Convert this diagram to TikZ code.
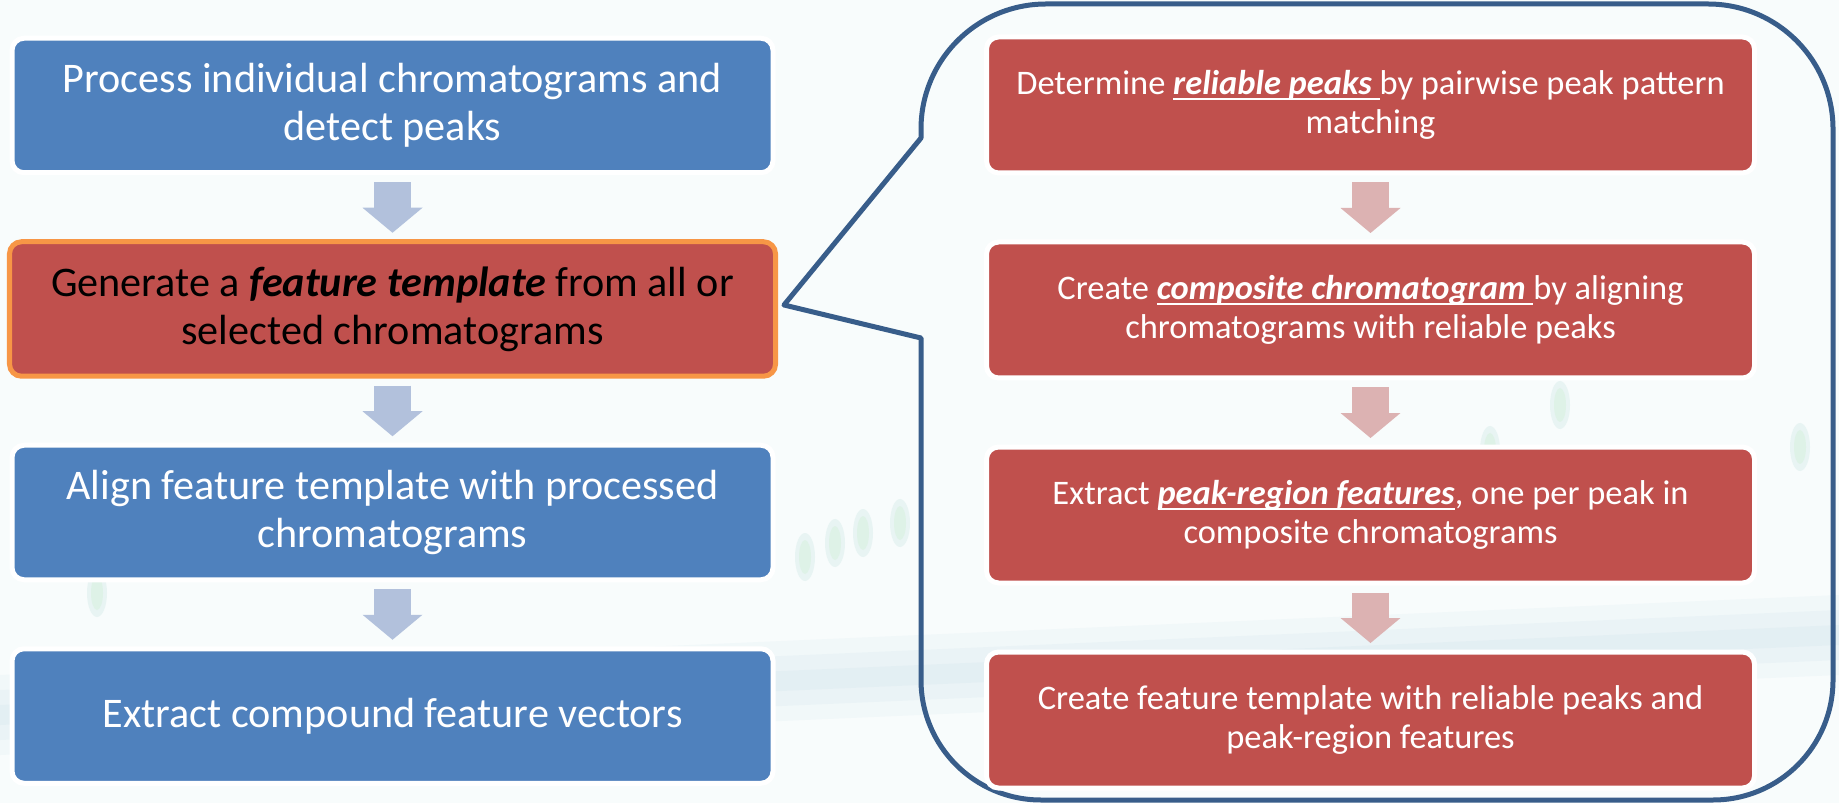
\documentclass[tikz,border=0pt]{standalone}
\usepackage{fontspec}
\setmainfont{Carlito}
\usepackage{xcolor}
\usetikzlibrary{arrows.meta,positioning}

\definecolor{bgcol}{RGB}{248,252,252}
\definecolor{stepblue}{RGB}{79,129,189}
\definecolor{stepred}{RGB}{192,80,77}
\definecolor{hilite}{RGB}{247,150,70}
\definecolor{calloutline}{RGB}{56,93,138}
\definecolor{arrowblue}{RGB}{178,193,220}
\definecolor{arrowred}{RGB}{220,178,178}
\definecolor{haze}{RGB}{214,232,238}
\definecolor{peakgreen}{RGB}{205,240,210}
\definecolor{peakedge}{RGB}{170,215,210}

% bold italic term with a tight underline
\newcommand{\keyterm}[1]{\setbox0\hbox{\bfseries\itshape #1}\rlap{\rule[-0.17em]{\wd0}{0.07em}}\box0}

\begin{document}
\begin{tikzpicture}[
    node distance=0.69cm,
    leftbox/.style={rectangle, rounded corners=0.12cm, fill=stepblue, draw=white, line width=0.05cm, outer sep=0pt, minimum width=7.61cm, minimum height=1.345cm, align=center, text=white, font=\fontsize{12}{13.7}\selectfont},
    rightbox/.style={rectangle, rounded corners=0.12cm, fill=stepred, draw=white, line width=0.05cm, outer sep=0pt, minimum width=7.68cm, minimum height=1.36cm, align=center, text=white, font=\fontsize{9.8}{11.2}\selectfont},
    blockarrow/.style={line width=0.37cm, -{Triangle[length=0.25cm, width=0.6cm, line width=0pt]}, shorten <=0.095cm, shorten >=0.09cm},
    peak/.style={fill=peakedge, opacity=0.2}
]

% Page and faint background
\fill[bgcol] (0,0) rectangle (18.39,-8.03);
\useasboundingbox (0,0) rectangle (18.39,-8.03);
\fill[haze, opacity=0.2] (0,-6.75) -- (18.39,-5.95) -- (18.39,-6.75) -- (0,-7.55) -- cycle;
\fill[haze, opacity=0.25] (0,-6.9) -- (18.39,-6.1) -- (18.39,-6.6) -- (0,-7.4) -- cycle;
\fill[haze, opacity=0.3] (0,-7.05) -- (18.39,-6.25) -- (18.39,-6.45) -- (0,-7.25) -- cycle;
\foreach \x/\y in {8.05/5.57, 8.35/5.43, 8.63/5.33, 9.0/5.23, 14.9/4.5, 15.6/4.05, 18.0/4.47, 0.97/5.93} {
    \fill[peak] (\x,-\y) ellipse[x radius=0.1cm, y radius=0.24cm];
    \fill[peakgreen, opacity=0.35] (\x,-\y) ellipse[x radius=0.06cm, y radius=0.17cm];
}

% Callout around the detail steps
\draw[calloutline, line width=0.05cm, line join=round]
    (7.84,-3.05) -- (9.21,-1.38) -- (9.21,-1.29) arc[start angle=180, end angle=90, radius=1.25]
    -- (17.08,-0.04) arc[start angle=90, end angle=0, radius=1.25]
    -- (18.33,-6.80) arc[start angle=0, end angle=-90, radius=1.2]
    -- (10.41,-8.00) arc[start angle=-90, end angle=-180, radius=1.2]
    -- (9.21,-3.38) -- cycle;

% Main workflow
\node[leftbox] (proc) at (3.925,-1.055) {Process individual chromatograms and\\detect peaks};
\node[leftbox, fill=stepred, draw=hilite, text=black, minimum width=7.66cm, below=of proc] (gen) {Generate a \textbf{\textit{feature template}} from all or\\selected chromatograms};
\node[leftbox, below=of gen] (align) {Align feature template with processed\\chromatograms};
\node[leftbox, below=of align] (extract) {Extract compound feature vectors};

% Template generation steps
\node[rightbox] (reliable) at (13.705,-1.05) {Determine \keyterm{reliable peaks\ }by pairwise peak pattern\\matching};
\node[rightbox, below=of reliable] (composite) {Create \keyterm{composite chromatogram\ }by aligning\\chromatograms with reliable peaks};
\node[rightbox, below=of composite] (regions) {Extract \keyterm{peak-region features}, one per peak in\\composite chromatograms};
\node[rightbox, below=of regions] (template) {Create feature template with reliable peaks and\\peak-region features};

% Arrows
\draw[blockarrow, arrowblue] (proc) -- (gen);
\draw[blockarrow, arrowblue] (gen) -- (align);
\draw[blockarrow, arrowblue] (align) -- (extract);
\draw[blockarrow, arrowred] (reliable) -- (composite);
\draw[blockarrow, arrowred] (composite) -- (regions);
\draw[blockarrow, arrowred] (regions) -- (template);

\end{tikzpicture}
\end{document}
